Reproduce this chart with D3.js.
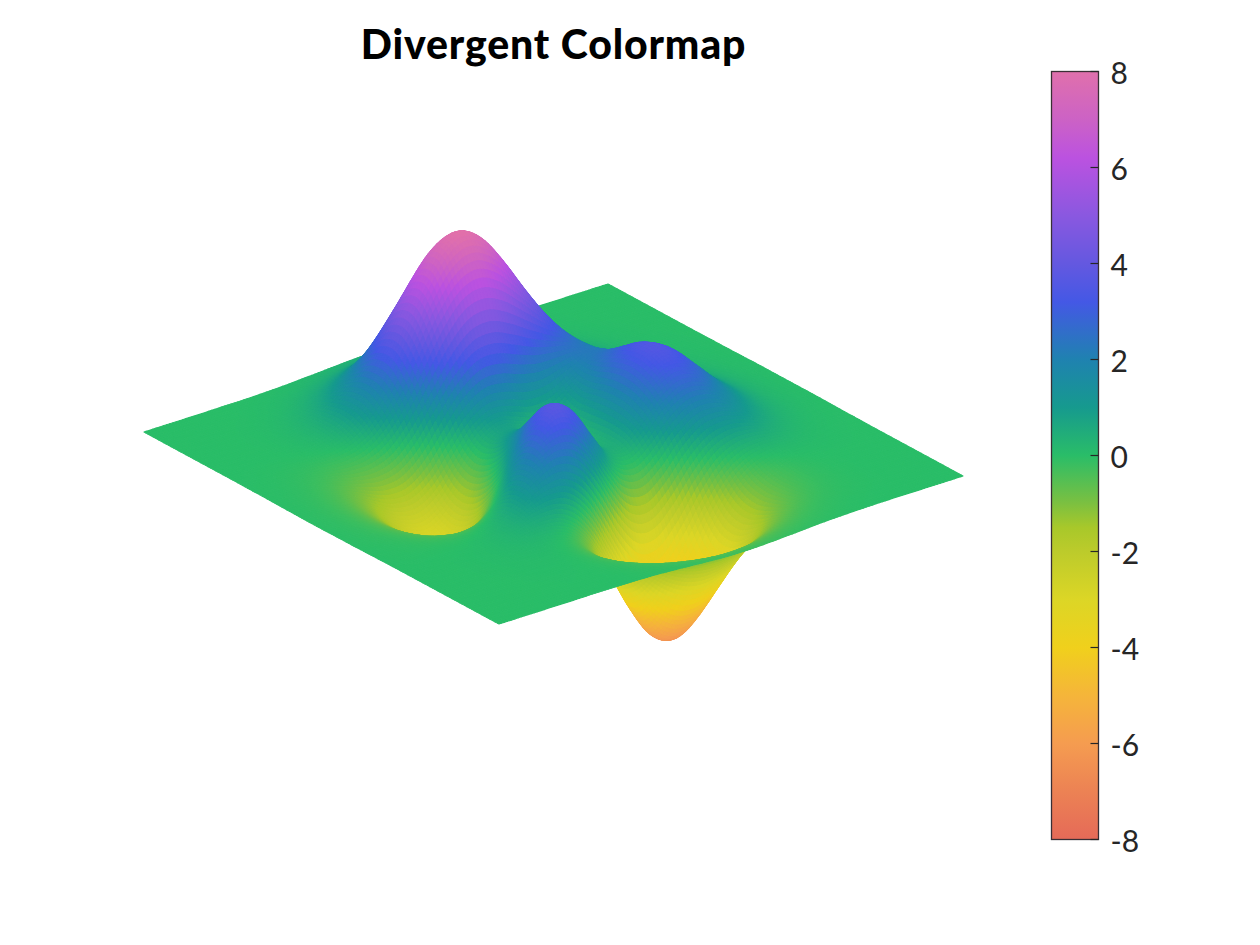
<!DOCTYPE html>
<html lang="en">
<head>
    <meta charset="UTF-8"/>
    <title>Divergent Colormap</title>
    <script src="https://d3js.org/d3.v7.min.js"></script>
    <style>
        body { margin: 0; background: #fff; }
        text { font-family: Lato, "Open Sans", sans-serif; }
    </style>
</head>
<body>
    <div id="content-area"></div>

    <script>
        // Grid positions of the surface, both directions
        const xValues = [-3,-2.75,-2.5,-2.25,-2,-1.75,-1.5,-1.25,-1,-0.75,-0.5,-0.25,0,0.25,0.5,0.75,1,1.25,1.5,1.75,2,2.25,2.5,2.75,3];
        const yValues = xValues;

        // Surface heights, one row per y value (y = -3 first)
        const zRows = [
            [0,0,0,0,0,.01,0,-.01,-.03,-.08,-.14,-.2,-.25,-.25,-.22,-.17,-.11,-.06,-.03,-.01,0,0,0,0,0],
            [0,0,0,0,.01,.01,0,-.02,-.1,-.22,-.39,-.56,-.68,-.69,-.61,-.46,-.3,-.17,-.08,-.03,-.01,0,0,0,0],
            [0,0,0,.01,.01,.02,0,-.07,-.23,-.53,-.92,-1.31,-1.57,-1.61,-1.41,-1.06,-.69,-.38,-.18,-.08,-.03,-.01,0,0,0],
            [0,0,.01,.01,.03,.04,.01,-.12,-.44,-1,-1.74,-2.51,-3.02,-3.1,-2.72,-2.05,-1.32,-.73,-.35,-.14,-.05,-.01,0,0,0],
            [0,0,.01,.02,.05,.07,.05,-.13,-.59,-1.45,-2.64,-3.89,-4.76,-4.93,-4.35,-3.27,-2.1,-1.15,-.53,-.2,-.06,-.01,0,0,0],
            [0,0,.01,.03,.07,.13,.15,.02,-.46,-1.48,-3,-4.7,-5.97,-6.33,-5.64,-4.24,-2.69,-1.42,-.61,-.21,-.04,0,.01,0,0],
            [0,0,.01,.03,.08,.19,.33,.39,.15,-.68,-2.19,-4.08,-5.68,-6.33,-5.76,-4.32,-2.64,-1.27,-.44,-.07,.04,.05,.03,.01,0],
            [0,-.01,-.01,-.01,.03,.17,.45,.84,1.11,.88,-.14,-1.85,-3.61,-4.6,-4.4,-3.22,-1.74,-.56,.08,.27,.23,.13,.06,.02,.01],
            [-.01,-.03,-.06,-.1,-.13,-.04,.3,.98,1.86,2.45,2.23,1,-.72,-2.02,-2.22,-1.43,-.27,.58,.88,.77,.5,.26,.11,.04,.01],
            [-.02,-.05,-.12,-.26,-.42,-.51,-.28,.49,1.78,3.09,3.63,2.94,1.4,-.01,-.41,.2,1.18,1.79,1.78,1.35,.82,.41,.18,.06,.02],
            [-.03,-.08,-.2,-.44,-.8,-1.16,-1.21,-.6,.8,2.49,3.55,3.3,2,.7,.39,1.14,2.2,2.76,2.56,1.88,1.12,.56,.24,.09,.03],
            [-.03,-.1,-.27,-.6,-1.14,-1.78,-2.16,-1.84,-.57,1.23,2.56,2.63,1.59,.53,.48,1.5,2.76,3.37,3.09,2.25,1.34,.67,.28,.1,.03],
            [-.04,-.11,-.3,-.69,-1.33,-2.14,-2.77,-2.71,-1.65,.06,1.48,1.75,.98,.19,.38,1.57,2.94,3.58,3.27,2.37,1.41,.7,.3,.11,.03],
            [-.04,-.11,-.29,-.67,-1.32,-2.16,-2.87,-2.98,-2.15,-.65,.68,1.06,.52,-.03,.28,1.47,2.76,3.36,3.06,2.22,1.32,.66,.28,.1,.03],
            [-.03,-.09,-.25,-.57,-1.12,-1.85,-2.49,-2.64,-2,-.76,.39,.8,.46,.09,.38,1.34,2.38,2.83,2.56,1.85,1.09,.54,.23,.08,.03],
            [-.02,-.07,-.18,-.42,-.82,-1.33,-1.76,-1.78,-1.16,-.05,1.04,1.55,1.42,1.12,1.17,1.65,2.17,2.32,1.99,1.4,.82,.41,.17,.06,.02],
            [-.01,-.04,-.11,-.25,-.48,-.74,-.86,-.6,.23,1.51,2.79,3.59,3.69,3.34,2.93,2.66,2.43,2.09,1.58,1.04,.58,.28,.12,.04,.01],
            [-.01,-.02,-.06,-.12,-.2,-.23,-.05,.55,1.69,3.29,4.92,6.07,6.39,5.94,5.02,3.97,2.97,2.09,1.35,.79,.41,.19,.07,.03,.01],
            [0,-.01,-.02,-.03,-.01,.11,.48,1.28,2.61,4.38,6.2,7.54,8,7.48,6.25,4.72,3.26,2.05,1.19,.62,.29,.12,.05,.02,0],
            [0,0,0,.01,.07,.24,.65,1.43,2.67,4.29,5.96,7.22,7.67,7.19,5.99,4.45,2.96,1.78,.96,.47,.21,.08,.03,.01,0],
            [0,0,.01,.02,.08,.23,.55,1.16,2.1,3.31,4.56,5.51,5.86,5.5,4.57,3.37,2.21,1.29,.68,.32,.13,.05,.02,0,0],
            [0,0,0,.02,.06,.16,.36,.74,1.32,2.07,2.84,3.43,3.65,3.43,2.84,2.09,1.36,.79,.41,.19,.08,.03,.01,0,0],
            [0,0,0,.01,.03,.08,.19,.39,.69,1.07,1.47,1.77,1.89,1.77,1.47,1.08,.7,.4,.21,.09,.04,.01,0,0,0],
            [0,0,0,.01,.01,.04,.09,.17,.3,.47,.64,.77,.82,.77,.64,.47,.3,.17,.09,.04,.02,.01,0,0,0],
            [0,0,0,0,.01,.01,.03,.06,.11,.17,.23,.28,.3,.28,.23,.17,.11,.06,.03,.01,.01,0,0,0,0]
        ];

        // Colormap
        const colorStops = [-8,-7,-6,-5,-4,-3,-2,-1.5,-1,0,1,2,3.2,4,5,6.2,7,8];
        const colorValues = ["#e56a58","#ec8254","#f59c50","#f5b53a","#f0d01c","#dcd626","#bccb2b","#a8c82a","#7cc040","#2abd68","#169a8e","#1f82b0","#4458e5","#6458e0","#8a58e0","#bb52e0","#cc62c5","#e070ac"];
        const colorbarTicks = [-8,-6,-4,-2,0,2,4,6,8];

        const w = 1260;
        const h = 945;
        const steps = 6; // shading steps drawn inside one grid cell

        const svg = d3.select("#content-area")
            .append("svg")
            .attr("width", w)
            .attr("height", h)
            .style("display", "block");

        const color = d3.scaleLinear().domain(colorStops).range(colorValues);

        // View of the 3D axes: each data direction moves the point on screen
        const xToScreenX = d3.scaleLinear().domain([-3, 3]).range([-232, 232]);
        const xToScreenY = d3.scaleLinear().domain([-3, 3]).range([74, -74]);
        const yToScreenX = d3.scaleLinear().domain([-3, 3]).range([177.5, -177.5]);
        const yToScreenY = d3.scaleLinear().domain([-3, 3]).range([96, -96]);
        const zToScreenY = d3.scaleLinear().domain([-8, 8]).range([169.5, -169.5]);
        const cx = 553.5, cy = 454;

        // Catmull-Rom through four neighbours, for the smooth shading between grid nodes
        function smooth(a, b, c, d, t) {
            return b + 0.5 * t * (c - a + t * (2 * a - 5 * b + 4 * c - d + t * (3 * (b - c) + d - a)));
        }

        function refine(line) {
            const out = [];
            const last = line.length - 1;
            for (let i = 0; i < last; i++) {
                for (let s = 0; s < steps; s++) {
                    out.push(smooth(line[Math.max(i - 1, 0)], line[i], line[i + 1], line[Math.min(i + 2, last)], s / steps));
                }
            }
            out.push(line[last]);
            return out;
        }

        const wideRows = zRows.map(refine);
        const fineColumns = d3.range(wideRows[0].length).map(j => refine(wideRows.map(r => r[j])));
        const fineCount = fineColumns.length;
        const fineX = refine(xValues);
        const fineY = refine(yValues);

        function project(j, i) {
            const z = fineColumns[j][i];
            return [
                cx + xToScreenX(fineX[j]) + yToScreenX(fineY[i]),
                cy + xToScreenY(fineX[j]) + yToScreenY(fineY[i]) + zToScreenY(z)
            ];
        }

        function cellColor(d) {
            return color((fineColumns[d.j][d.i] + fineColumns[d.j + 1][d.i] + fineColumns[d.j + 1][d.i + 1] + fineColumns[d.j][d.i + 1]) / 4);
        }

        // Back to front: the far corner is x = 3, y = 3
        const surface = svg.append("g");
        const cells = [];
        for (let i = fineCount - 2; i >= 0; i--) {
            for (let j = fineCount - 2; j >= 0; j--) {
                cells.push({ i, j });
            }
        }

        surface.selectAll("path")
            .data(cells)
            .enter()
            .append("path")
            .attr("d", d => {
                const pts = [project(d.j, d.i), project(d.j + 1, d.i), project(d.j + 1, d.i + 1), project(d.j, d.i + 1)];
                return "M" + pts.map(p => p[0].toFixed(2) + "," + p[1].toFixed(2)).join("L") + "Z";
            })
            .attr("fill", cellColor)
            .attr("stroke", cellColor)
            .attr("stroke-width", 1.1)
            .attr("stroke-linejoin", "round");

        // Colorbar
        const barLeft = 1051.5, barWidth = 47, barTop = 71.5, barBottom = 839.5;
        const barScale = d3.scaleLinear().domain([-8, 8]).range([barBottom, barTop]);

        const grad = svg.append("defs").append("linearGradient")
            .attr("id", "barGradient")
            .attr("x1", 0).attr("x2", 0).attr("y1", 1).attr("y2", 0);
        grad.selectAll("stop")
            .data(colorStops)
            .enter()
            .append("stop")
            .attr("offset", d => (d + 8) / 16)
            .attr("stop-color", d => color(d));

        svg.append("rect")
            .attr("x", barLeft)
            .attr("y", barTop)
            .attr("width", barWidth)
            .attr("height", barBottom - barTop)
            .attr("fill", "url(#barGradient)")
            .attr("stroke", "#3a2f35")
            .attr("stroke-width", 1.3);

        const barAxis = svg.append("g")
            .attr("transform", `translate(${barLeft + barWidth}, 2)`)
            .call(d3.axisRight(barScale).tickValues(colorbarTicks).tickSize(-8).tickPadding(12).tickFormat(d => String(d)));
        barAxis.select(".domain").remove();
        barAxis.selectAll("line").attr("y1", -2.5).attr("y2", -2.5)
            .attr("stroke", "#262626").attr("stroke-width", 1.2);
        barAxis.selectAll("text")
            .attr("fill", "#262626")
            .attr("font-size", "30px")
            .style("font-family", "Lato, sans-serif");

        // Title
        svg.append("text")
            .attr("x", 553.5)
            .attr("y", 59)
            .attr("text-anchor", "middle")
            .attr("font-size", "41px")
            .attr("font-weight", 900)
            .attr("letter-spacing", "0.85px")
            .attr("fill", "#000")
            .text("Divergent Colormap");
    </script>
</body>
</html>
